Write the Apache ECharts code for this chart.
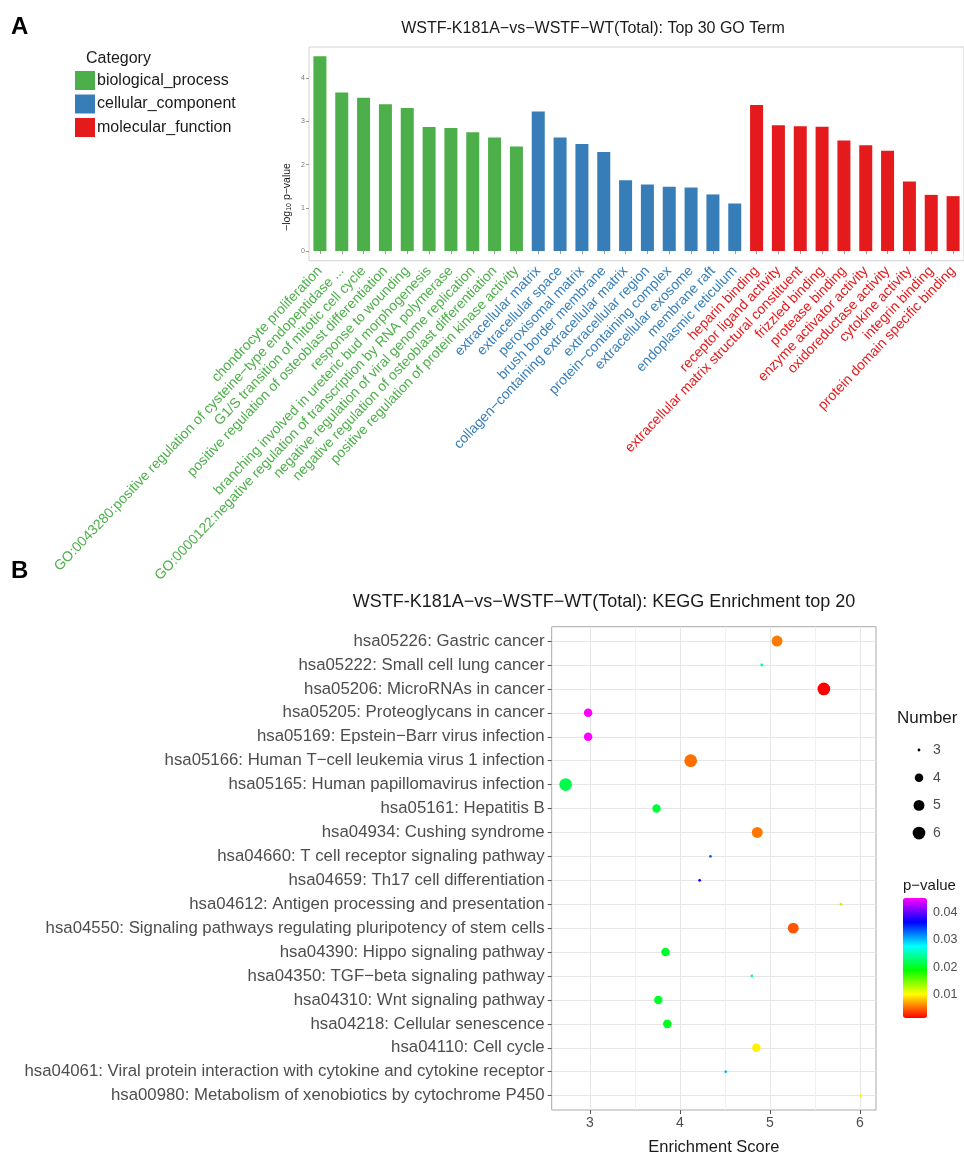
<!DOCTYPE html>
<html>
<head>
<meta charset="utf-8">
<script src="https://cdn.jsdelivr.net/npm/echarts@6/dist/echarts.min.js"></script>
<style>
  html, body { margin: 0; padding: 0; background: #ffffff; }
  #chart { width: 964px; height: 1153px; }
</style>
</head>
<body>
<div id="chart"></div>
<script>
const FONT = '"Liberation Sans", Arial, Helvetica, sans-serif';

// ---- Panel A: top 30 GO terms, -log10(p) per ontology ----
const bpTerms = [
  'chondrocyte proliferation',
  'GO:0043280:positive regulation of cysteine\u2212type endopeptidase ...',
  'G1/S transition of mitotic cell cycle',
  'positive regulation of osteoblast differentiation',
  'response to wounding',
  'branching involved in ureteric bud morphogenesis',
  'GO:0000122:negative regulation of transcription by RNA polymerase',
  'negative regulation of viral genome replication',
  'negative regulation of osteoblast differentiation',
  'positive regulation of protein kinase activity'
];
const bpValues = [4.51, 3.67, 3.55, 3.40, 3.31, 2.87, 2.85, 2.75, 2.63, 2.42];

const ccTerms = [
  'extracellular matrix',
  'extracellular space',
  'peroxisomal matrix',
  'brush border membrane',
  'collagen\u2212containing extracellular matrix',
  'extracellular region',
  'protein\u2212containing complex',
  'extracellular exosome',
  'membrane raft',
  'endoplasmic reticulum'
];
const ccValues = [3.23, 2.63, 2.48, 2.29, 1.64, 1.54, 1.49, 1.47, 1.31, 1.10];

const mfTerms = [
  'heparin binding',
  'receptor ligand activity',
  'extracellular matrix structural constituent',
  'frizzled binding',
  'protease binding',
  'enzyme activator activity',
  'oxidoreductase activity',
  'cytokine activity',
  'integrin binding',
  'protein domain specific binding'
];
const mfValues = [3.38, 2.91, 2.89, 2.88, 2.56, 2.45, 2.32, 1.61, 1.30, 1.27];

const categoryNames = ['biological_process', 'cellular_component', 'molecular_function'];
const categoryColors = ['#4DAF4A', '#377EB8', '#E41A1C'];
const goTicks = [0, 1, 2, 3, 4];

// ---- Panel B: KEGG enrichment top 20 ----
const keggTerms = [
  'hsa05226: Gastric cancer',
  'hsa05222: Small cell lung cancer',
  'hsa05206: MicroRNAs in cancer',
  'hsa05205: Proteoglycans in cancer',
  'hsa05169: Epstein\u2212Barr virus infection',
  'hsa05166: Human T\u2212cell leukemia virus 1 infection',
  'hsa05165: Human papillomavirus infection',
  'hsa05161: Hepatitis B',
  'hsa04934: Cushing syndrome',
  'hsa04660: T cell receptor signaling pathway',
  'hsa04659: Th17 cell differentiation',
  'hsa04612: Antigen processing and presentation',
  'hsa04550: Signaling pathways regulating pluripotency of stem cells',
  'hsa04390: Hippo signaling pathway',
  'hsa04350: TGF\u2212beta signaling pathway',
  'hsa04310: Wnt signaling pathway',
  'hsa04218: Cellular senescence',
  'hsa04110: Cell cycle',
  'hsa04061: Viral protein interaction with cytokine and cytokine receptor',
  'hsa00980: Metabolism of xenobiotics by cytochrome P450'
];
const keggScore  = [5.08, 4.91, 5.60, 2.98, 2.98, 4.12, 2.73, 3.74, 4.86, 4.34,
                    4.22, 5.79, 5.26, 3.84, 4.80, 3.76, 3.86, 4.85, 4.51, 6.01];
const keggNumber = [5, 3, 6, 4, 4, 6, 6, 4, 5, 3,
                    3, 3, 5, 4, 3, 4, 4, 4, 3, 3];
const keggPValue = [0.0056, 0.0235, 0.0015, 0.0452, 0.0450, 0.0053, 0.0215, 0.0210, 0.0056, 0.0330,
                    0.0372, 0.0128, 0.0044, 0.0203, 0.0235, 0.0203, 0.0200, 0.0098, 0.0300, 0.0105];
const scoreTicks = [3, 4, 5, 6];
const scoreMinorTicks = [3.5, 4.5, 5.5];
const numberBreaks = [3, 4, 5, 6];
const pValueBreaks = [0.04, 0.03, 0.02, 0.01];
const pValueRange = [0.0015, 0.0452];
const pValueColors = ['#FF0000', '#FFFF00', '#00FF00', '#00FFFF', '#0000FF', '#FF00FF'];

// area-style size scale for the gene count
function dotSize(n) {
  const t = (n - numberBreaks[0]) / (numberBreaks[numberBreaks.length - 1] - numberBreaks[0]);
  return 2.8 + 9.9 * Math.sqrt(Math.max(0, t));
}

// ---- derived structures ----
const ontologyTerms = [bpTerms, ccTerms, mfTerms];
const ontologyValues = [bpValues, ccValues, mfValues];
const goTerms = [].concat(bpTerms, ccTerms, mfTerms);
const termColor = [];
ontologyTerms.forEach((list, i) => list.forEach(() => termColor.push(categoryColors[i])));

const barSeries = categoryNames.map((name, i) => ({
  type: 'bar',
  name: name,
  xAxisIndex: 0,
  yAxisIndex: 0,
  barWidth: 13,
  barGap: '-100%',
  silent: true,
  itemStyle: { color: categoryColors[i] },
  data: goTerms.map(term => {
    const k = ontologyTerms[i].indexOf(term);
    return k >= 0 ? ontologyValues[i][k] : null;
  })
}));

const keggRows = keggTerms.map((_, i) => i + 1);
const scatterSeries = {
  type: 'scatter',
  xAxisIndex: 1,
  yAxisIndex: 1,
  silent: true,
  symbolSize: v => dotSize(v[2]),
  itemStyle: { opacity: 1 },
  data: keggTerms.map((_, i) => [keggScore[i], i + 1, keggNumber[i], keggPValue[i]])
};

// ---- legend blocks for panel B ----
const colorBar = { x: 903, y: 898, w: 24, h: 120 };
const graphics = [];

function addText(x, y, text, size, color, opts) {
  graphics.push(Object.assign({
    type: 'text', x: x, y: y, silent: true,
    style: Object.assign({
      text: text, fontSize: size, fontFamily: FONT, fill: color,
      textAlign: 'left', textVerticalAlign: 'middle'
    }, (opts && opts.style) || {})
  }, (opts && opts.el) || {}));
}

addText(11, 27, 'A', 24, '#000', { style: { fontWeight: 'bold' } });
addText(11, 571, 'B', 24, '#000', { style: { fontWeight: 'bold' } });
addText(593, 29, 'WSTF-K181A\u2212vs\u2212WSTF\u2212WT(Total): Top 30 GO Term', 16, '#1a1a1a',
        { style: { textAlign: 'center' } });
addText(604, 602, 'WSTF-K181A\u2212vs\u2212WSTF\u2212WT(Total): KEGG Enrichment top 20', 18, '#1a1a1a',
        { style: { textAlign: 'center' } });
addText(86, 59, 'Category', 16, '#1a1a1a');

// y axis title of panel A, with subscripted base
graphics.push({
  type: 'text', x: 287, y: 197, rotation: Math.PI / 2, silent: true,
  style: {
    text: '{a|\u2212log}{s|10}{a| p\u2212value}',
    fontFamily: FONT, fill: '#1a1a1a', textAlign: 'center', textVerticalAlign: 'middle',
    rich: {
      a: { fontSize: 10.5, fontFamily: FONT, fill: '#1a1a1a', verticalAlign: 'bottom' },
      s: { fontSize: 7, fontFamily: FONT, fill: '#1a1a1a', verticalAlign: 'bottom' }
    }
  }
});

// gene-count size legend
addText(897, 718, 'Number', 17, '#1a1a1a');
numberBreaks.forEach((n, i) => {
  const cy = 750 + i * 27.7;
  graphics.push({ type: 'circle', silent: true, shape: { cx: 919, cy: cy, r: dotSize(n) / 2 }, style: { fill: '#000' } });
  addText(933, cy, String(n), 14, '#4d4d4d');
});

// p-value colour bar labels
addText(903, 886, 'p\u2212value', 15, '#1a1a1a');
pValueBreaks.forEach(v => {
  const y = colorBar.y + (pValueRange[1] - v) / (pValueRange[1] - pValueRange[0]) * colorBar.h;
  addText(933, y, v.toFixed(2), 12.5, '#4d4d4d');
});

const option = {
  animation: false,
  backgroundColor: '#ffffff',
  textStyle: { fontFamily: FONT },
  grid: [
    { left: 309, top: 47, width: 655, height: 213.7, show: true, borderColor: '#d2d2d2', borderWidth: 1,
      backgroundColor: 'transparent', containLabel: false, outerBoundsMode: 'none' },
    { left: 551.7, top: 626.7, width: 324.3, height: 483.3, show: true, borderColor: '#a8a8a8', borderWidth: 1,
      backgroundColor: 'transparent', containLabel: false, outerBoundsMode: 'none' }
  ],
  legend: {
    orient: 'vertical', left: 75, top: 71, padding: 0,
    itemWidth: 20, itemHeight: 19, itemGap: 4.5, icon: 'rect',
    selectedMode: false,
    data: categoryNames,
    textStyle: { fontSize: 16, color: '#1a1a1a', fontFamily: FONT, padding: [0, 0, 0, -3] }
  },
  xAxis: [
    {
      gridIndex: 0, type: 'category', data: goTerms,
      axisLine: { show: false },
      axisTick: { show: true, alignWithLabel: true, length: 3, lineStyle: { color: '#9a9a9a' } },
      axisLabel: {
        interval: 0, rotate: 46.5, fontSize: 14, margin: 8, fontFamily: FONT, hideOverlap: false,
        color: (value, index) => termColor[index]
      },
      splitLine: { show: false }
    },
    {
      gridIndex: 1, type: 'value', min: 2.575, max: 6.18, position: 'bottom',
      name: 'Enrichment Score', nameLocation: 'middle', nameGap: 29,
      nameTextStyle: { fontSize: 16.5, color: '#1a1a1a', fontFamily: FONT },
      axisLine: { show: false },
      axisTick: { show: true, length: 4, customValues: scoreTicks, lineStyle: { color: '#555' } },
      axisLabel: { customValues: scoreTicks, fontSize: 14, color: '#4d4d4d', margin: 6, fontFamily: FONT, hideOverlap: false },
      splitLine: { show: true, lineStyle: { color: '#e6e6e6', width: 1 } }
    },
    {
      gridIndex: 1, type: 'value', min: 2.575, max: 6.18, position: 'top',
      axisLine: { show: false },
      axisTick: { show: false, customValues: scoreMinorTicks },
      axisLabel: { show: false, customValues: scoreMinorTicks },
      splitLine: { show: true, lineStyle: { color: '#f0f0f0', width: 1 } }
    }
  ],
  yAxis: [
    {
      gridIndex: 0, type: 'value', min: -0.225, max: 4.725,
      axisLine: { show: false },
      axisTick: { show: true, length: 3, customValues: goTicks, lineStyle: { color: '#9a9a9a' } },
      axisLabel: { customValues: goTicks, fontSize: 7, color: '#777', margin: 4, fontFamily: FONT },
      splitLine: { show: false }
    },
    {
      gridIndex: 1, type: 'value', min: 0.4, max: 20.6, inverse: true,
      axisLine: { show: false },
      axisTick: { show: true, length: 4, customValues: keggRows, lineStyle: { color: '#555' } },
      axisLabel: {
        customValues: keggRows, fontSize: 16.8, color: '#4d4d4d', margin: 7, fontFamily: FONT, hideOverlap: false,
        formatter: v => keggTerms[Math.round(v) - 1] || ''
      },
      splitLine: { show: true, lineStyle: { color: '#e6e6e6', width: 1 } }
    }
  ],
  visualMap: {
    type: 'continuous', seriesIndex: 3, dimension: 3,
    min: pValueRange[0], max: pValueRange[1],
    inRange: { color: pValueColors },
    orient: 'vertical', left: colorBar.x, top: colorBar.y,
    itemWidth: colorBar.w, itemHeight: colorBar.h,
    calculable: false, hoverLink: false, realtime: false, padding: 0, text: null
  },
  graphic: graphics,
  series: barSeries.concat([scatterSeries])
};

const chart = echarts.init(document.getElementById('chart'), null, { renderer: 'canvas', width: 964, height: 1153 });
chart.setOption(option);
</script>
</body>
</html>
